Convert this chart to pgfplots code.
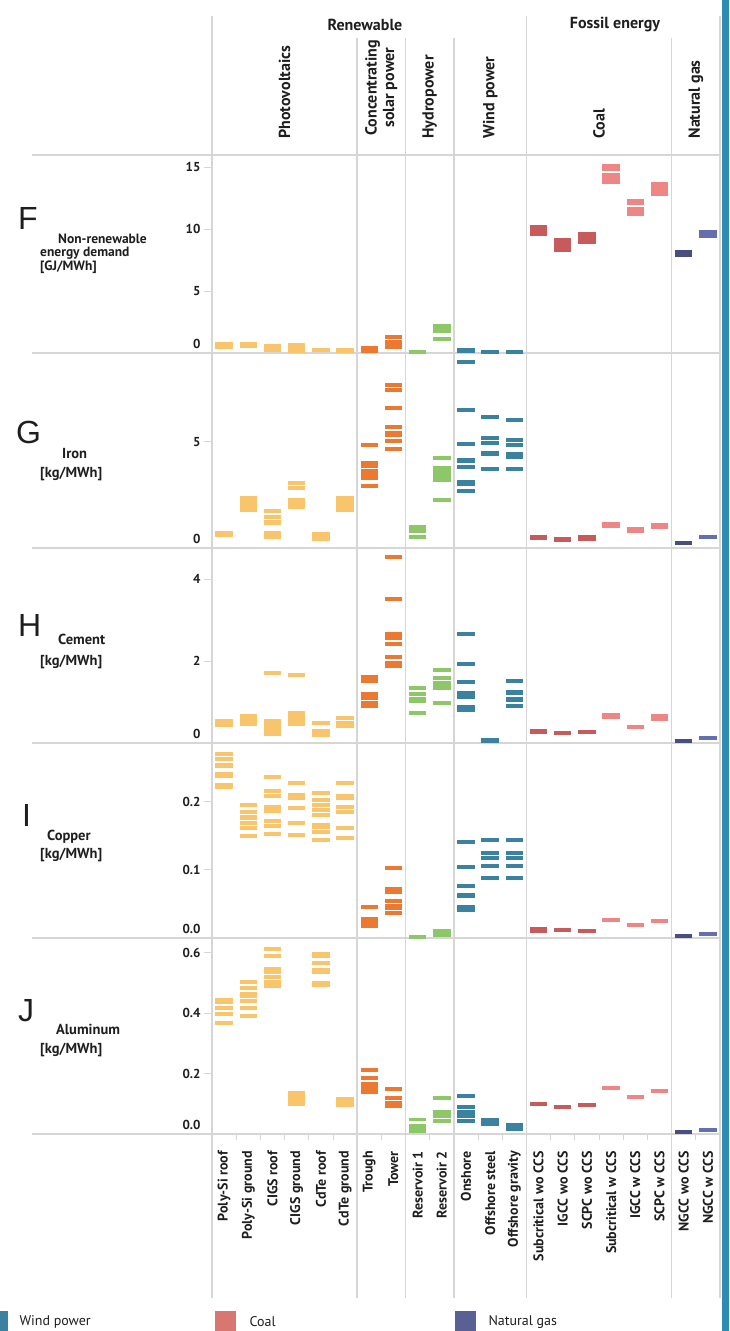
\documentclass[border=0pt]{standalone}
\usepackage{pgfplots}
\pgfplotsset{compat=1.18}
\usepackage{pgfplotstable}
\usepackage{fontspec}
\setmainfont{PT Sans}
\newfontfamily\letterfont{Liberation Sans}

\definecolor{cPV}{RGB}{249,197,108}
\definecolor{cCSP}{RGB}{236,121,50}
\definecolor{cHY}{RGB}{141,199,103}
\definecolor{cWI}{RGB}{58,130,160}
\definecolor{cCO}{RGB}{199,91,91}
\definecolor{cCW}{RGB}{239,134,134}
\definecolor{cNO}{RGB}{72,78,128}
\definecolor{cNW}{RGB}{101,111,175}
\definecolor{gridc}{RGB}{214,214,214}
\definecolor{framec}{RGB}{46,140,180}
\definecolor{txt}{RGB}{30,30,30}
\definecolor{legCoal}{RGB}{216,118,114}
\definecolor{legNG}{RGB}{90,96,148}

\newcommand{\lblfont}{\bfseries\fontsize{13}{15}\selectfont}
\newcommand{\rowfont}{\bfseries\fontsize{14.5}{16}\selectfont}
\newcommand{\rowfontF}{\bfseries\fontsize{13.5}{15}\selectfont}
\newcommand{\catfont}{\bfseries\fontsize{14}{16}\selectfont}
\newcommand{\headfont}{\bfseries\fontsize{16}{17.5}\selectfont}

% columns: category index, lowest dash centre, highest dash centre
\pgfplotstableread{
x lo hi
0 0.52 0.72
1 0.55 0.72
2 0.28 0.58
3 0.64 0.64
3 0.18 0.30
4 0.22 0.28
5 0.20 0.28
6 0.18 0.40
7 1.27 1.27
7 0.46 0.89
8 0.08 0.08
9 1.77 2.17
9 1.15 1.15
10 0.18 0.21
11 0.12 0.12
12 0.12 0.12
13 9.59 10.22
14 8.29 9.11
15 8.96 9.60
16 14.84 15.09
16 13.84 14.40
17 12.09 12.31
17 11.26 11.65
18 12.81 13.64
19 7.89 8.17
20 9.46 9.74
}\tF

\pgfplotstableread{
x lo hi
0 0.60 0.72
1 1.80 2.33
2 1.72 1.72
2 1.44 1.44
2 1.20 1.20
2 0.53 0.72
3 3.05 3.05
3 2.82 2.82
3 1.93 2.27
4 0.42 0.67
5 1.80 2.33
6 4.86 4.86
6 3.87 4.01
6 3.27 3.63
6 2.90 2.90
7 7.65 7.65
7 7.42 7.42
7 6.60 6.60
7 5.68 5.68
7 5.32 5.40
7 5.05 5.05
7 4.64 4.64
8 0.78 1.00
8 0.54 0.54
9 4.23 4.23
9 3.75 3.75
9 3.21 3.55
9 2.28 2.28
10 8.75 8.75
10 6.47 6.47
10 4.87 4.87
10 4.07 4.13
10 3.81 3.81
10 3.00 3.08
10 2.69 2.69
11 6.16 6.16
11 5.16 5.16
11 4.94 4.94
11 4.40 4.45
11 3.72 3.72
12 6.03 6.03
12 5.06 5.06
12 4.85 4.85
12 4.30 4.41
12 3.72 3.72
13 0.45 0.50
14 0.38 0.42
15 0.44 0.50
16 1.05 1.15
17 0.80 0.88
18 1.00 1.08
19 0.25 0.25
20 0.53 0.53
}\tG

\pgfplotstableread{
x lo hi
0 0.45 0.54
1 0.47 0.65
2 1.70 1.70
2 0.47 0.54
2 0.22 0.36
3 1.66 1.66
3 0.47 0.74
4 0.48 0.48
4 0.20 0.29
5 0.61 0.61
5 0.42 0.48
6 1.62 1.62
6 1.51 1.51
6 1.11 1.19
6 0.91 0.97
7 4.53 4.53
7 3.52 3.52
7 2.66 2.66
7 2.55 2.55
7 2.41 2.41
7 2.10 2.10
7 1.88 1.95
8 1.34 1.34
8 1.20 1.20
8 1.03 1.07
8 0.72 0.72
9 1.77 1.77
9 1.59 1.59
9 1.35 1.47
9 0.98 0.98
10 2.66 2.66
10 1.93 1.93
10 1.49 1.49
10 1.12 1.23
10 0.80 0.89
11 0.06 0.08
12 1.52 1.52
12 1.21 1.25
12 1.05 1.07
12 0.91 0.91
13 0.27 0.29
14 0.24 0.24
15 0.26 0.28
16 0.64 0.69
17 0.39 0.39
18 0.58 0.66
19 0.05 0.05
20 0.12 0.13
}\tH

\pgfplotstableread{
x lo hi
0 0.270 0.270
0 0.263 0.263
0 0.253 0.253
0 0.238 0.241
0 0.221 0.225
1 0.195 0.195
1 0.185 0.185
1 0.176 0.178
1 0.168 0.168
1 0.161 0.161
1 0.149 0.149
2 0.236 0.236
2 0.216 0.216
2 0.209 0.209
2 0.192 0.192
2 0.186 0.186
2 0.171 0.171
2 0.165 0.165
2 0.153 0.153
3 0.227 0.227
3 0.205 0.210
3 0.190 0.190
3 0.168 0.168
3 0.151 0.151
4 0.212 0.212
4 0.203 0.203
4 0.195 0.195
4 0.188 0.188
4 0.181 0.181
4 0.163 0.166
4 0.156 0.156
4 0.144 0.144
5 0.227 0.227
5 0.205 0.209
5 0.192 0.192
5 0.185 0.185
5 0.161 0.161
5 0.147 0.147
6 0.045 0.045
6 0.018 0.028
7 0.102 0.102
7 0.0725 0.0725
7 0.0675 0.0675
7 0.054 0.055
7 0.044 0.047
7 0.036 0.036
8 0.002 0.002
9 0.005 0.011
10 0.141 0.141
10 0.104 0.104
10 0.077 0.077
10 0.061 0.063
10 0.041 0.046
11 0.144 0.144
11 0.124 0.124
11 0.117 0.117
11 0.105 0.105
11 0.088 0.088
12 0.144 0.144
12 0.124 0.124
12 0.117 0.117
12 0.105 0.105
12 0.088 0.088
13 0.011 0.013
14 0.012 0.012
15 0.010 0.010
16 0.026 0.026
17 0.019 0.019
18 0.025 0.025
19 0.003 0.003
20 0.006 0.006
}\tI

\pgfplotstableread{
x lo hi
0 0.435 0.442
0 0.415 0.415
0 0.398 0.398
0 0.368 0.368
1 0.501 0.501
1 0.482 0.482
1 0.456 0.462
1 0.440 0.440
1 0.418 0.418
1 0.391 0.391
2 0.613 0.613
2 0.589 0.589
2 0.534 0.544
2 0.519 0.519
2 0.504 0.504
2 0.489 0.489
3 0.100 0.135
4 0.590 0.596
4 0.565 0.565
4 0.535 0.543
4 0.493 0.498
5 0.097 0.116
6 0.211 0.211
6 0.186 0.186
6 0.139 0.167
7 0.148 0.148
7 0.120 0.120
7 0.094 0.104
8 0.048 0.048
8 0.010 0.027
9 0.120 0.120
9 0.060 0.074
9 0.043 0.043
10 0.125 0.125
10 0.090 0.090
10 0.074 0.074
10 0.059 0.059
10 0.043 0.043
11 0.033 0.047
12 0.016 0.030
13 0.099 0.099
14 0.088 0.088
15 0.095 0.095
16 0.152 0.152
17 0.122 0.122
18 0.142 0.142
19 0.006 0.006
20 0.012 0.012
}\tJ

% one group of dashes: table, half dash thickness, colour, x range
\newcommand{\grp}[5]{%
  \addplot[draw=none, no markers, forget plot,
    restrict x to domain=#4:#5,
    error bars/.cd, y dir=both, y explicit, error mark=none,
    error bar style={draw=#3, line width=17.4pt}]
    table[x=x, y expr={(\thisrow{lo}+\thisrow{hi})/2},
          y error expr={(\thisrow{hi}-\thisrow{lo})/2+#2}] {#1};
}
\newcommand{\drawpanel}[2]{%
  \grp{#1}{#2}{cPV}{-0.2}{5.2}
  \grp{#1}{#2}{cCSP}{5.8}{7.2}
  \grp{#1}{#2}{cHY}{7.8}{9.2}
  \grp{#1}{#2}{cWI}{9.8}{12.2}
  \grp{#1}{#2}{cCO}{12.8}{15.2}
  \grp{#1}{#2}{cCW}{15.8}{18.2}
  \grp{#1}{#2}{cNO}{18.8}{19.2}
  \grp{#1}{#2}{cNW}{19.8}{20.2}
}

\pgfplotsset{
  panel/.style={
    scale only axis, width=508pt, xmin=-0.5, xmax=20.5, ymin=0,
    axis x line*=bottom, x axis line style={draw=none}, xtick=\empty,
    axis y line*=left, y axis line style={draw=none},
    ytick style={draw=gridc, line width=0.8pt},
    major tick length=8pt, tick align=outside,
    yticklabel style={font=\lblfont, text=txt},
    /pgf/number format/assume math mode=true,
    extra y ticks={0},
    extra y tick style={yticklabel style={yshift=9pt}, ytick style={draw=none}},
  },
  onedec/.style={
    /pgf/number format/fixed,
    /pgf/number format/fixed zerofill,
    /pgf/number format/precision=1,
  },
}

\begin{document}
\begin{tikzpicture}
\path[use as bounding box] (0pt,0pt) rectangle (729pt,-1331pt);

% frame lines
\begin{scope}[draw=gridc, line width=1.4pt]
\foreach \yy in {155,353,548,743,938,1134} \draw (32pt,-\yy pt) -- (720pt,-\yy pt);
\foreach \xx in {212,526.48,720} \draw (\xx pt,-16pt) -- (\xx pt,-1298pt);
\foreach \xx in {357.14,405.52,453.90,671.62} \draw (\xx pt,-38pt) -- (\xx pt,-1298pt);
\end{scope}

% header
\begin{scope}[font=\headfont, text=txt]
\node at (365pt,-25pt) {Renewable};
\node at (615pt,-25pt) {Fossil energy};
\node[rotate=90, anchor=west] at (284.6pt,-142pt) {Photovoltaics};
\node[rotate=90, anchor=west, align=center] at (381.3pt,-139pt) {Concentrating\\solar power};
\node[rotate=90, anchor=west] at (429.7pt,-142pt) {Hydropower};
\node[rotate=90, anchor=west] at (490.2pt,-142pt) {Wind power};
\node[rotate=90, anchor=west] at (599.0pt,-142pt) {Coal};
\node[rotate=90, anchor=west] at (696.0pt,-142pt) {Natural gas};
\end{scope}

% row labels
\begin{scope}[text=txt]
\begin{scope}[font=\letterfont\fontsize{32}{32}\selectfont, anchor=base west, inner sep=0pt]
\node at (18pt,-229pt) {F};
\node at (16pt,-443pt) {G};
\node at (18pt,-636pt) {H};
\node at (22pt,-826pt) {I};
\node at (18pt,-1021pt) {J};
\end{scope}
\begin{scope}[font=\rowfontF, inner sep=0pt, anchor=base west]
\node at (58pt,-243pt) {Non-renewable};
\node at (40pt,-256.5pt) {energy demand};
\node at (40pt,-270pt) {[GJ/MWh]};
\end{scope}
\begin{scope}[font=\rowfont, inner sep=0pt, anchor=base west]
\node at (62pt,-458pt) {Iron};
\node at (40pt,-477pt) {[kg/MWh]};
\node at (58pt,-644pt) {Cement};
\node at (40pt,-665pt) {[kg/MWh]};
\node at (47pt,-840pt) {Copper};
\node at (40pt,-858pt) {[kg/MWh]};
\node at (56pt,-1034pt) {Aluminum};
\node at (40pt,-1053pt) {[kg/MWh]};
\end{scope}
\end{scope}

% F
\begin{axis}[panel, at={(212pt,-155pt)}, anchor=north west, height=198pt,
  ymax=16.0, ytick={5,10,15}]
\drawpanel{\tF}{0.162}
\end{axis}
% G
\begin{axis}[panel, at={(212pt,-353pt)}, anchor=north west, height=195pt,
  ymax=9.17, ytick={5}]
\drawpanel{\tG}{0.095}
\end{axis}
% H
\begin{axis}[panel, at={(212pt,-548pt)}, anchor=north west, height=195pt,
  ymax=4.756, ytick={2,4}]
\drawpanel{\tH}{0.049}
\end{axis}
% I
\begin{axis}[panel, onedec, at={(212pt,-743pt)}, anchor=north west, height=195pt,
  ymax=0.286, ytick={0.1,0.2}]
\drawpanel{\tI}{0.00295}
\end{axis}
% J
\begin{axis}[panel, onedec, at={(212pt,-938pt)}, anchor=north west, height=196pt,
  ymax=0.648, ytick={0.2,0.4,0.6},
  xtick={0,...,20},
  xticklabels={Poly-Si roof, Poly-Si ground, CIGS roof, CIGS ground, CdTe roof, CdTe ground, Trough, Tower, Reservoir 1, Reservoir 2, Onshore, Offshore steel, Offshore gravity, Subcritical wo CCS, IGCC wo CCS, SCPC wo CCS, Subcritical w CCS, IGCC w CCS, SCPC w CCS, NGCC wo CCS, NGCC w CCS},
  every major x tick/.append style={draw=none},
  minor xtick={0.5,1.5,...,19.5},
  every minor x tick/.append style={draw=gridc, line width=0.8pt},
  minor tick length=6pt,
  xticklabel style={yshift=-9pt, rotate=90, anchor=east, inner sep=0pt, font=\catfont, text=txt}]
\drawpanel{\tJ}{0.0066}
\end{axis}

% legend strip (cropped in the original)
\begin{scope}[font=\fontsize{14}{16}\selectfont, text=txt]
\fill[cWI] (-5pt,-1311pt) rectangle (8pt,-1333pt);
\node[anchor=west] at (16pt,-1322pt) {Wind power};
\fill[legCoal] (215pt,-1311pt) rectangle (236pt,-1333pt);
\node[anchor=west] at (246pt,-1322pt) {Coal};
\fill[legNG] (455pt,-1311pt) rectangle (476pt,-1333pt);
\node[anchor=west] at (485pt,-1322pt) {Natural gas};
\end{scope}

% right frame strip
\fill[framec] (722pt,0pt) rectangle (729pt,-1331pt);
\end{tikzpicture}
\end{document}
